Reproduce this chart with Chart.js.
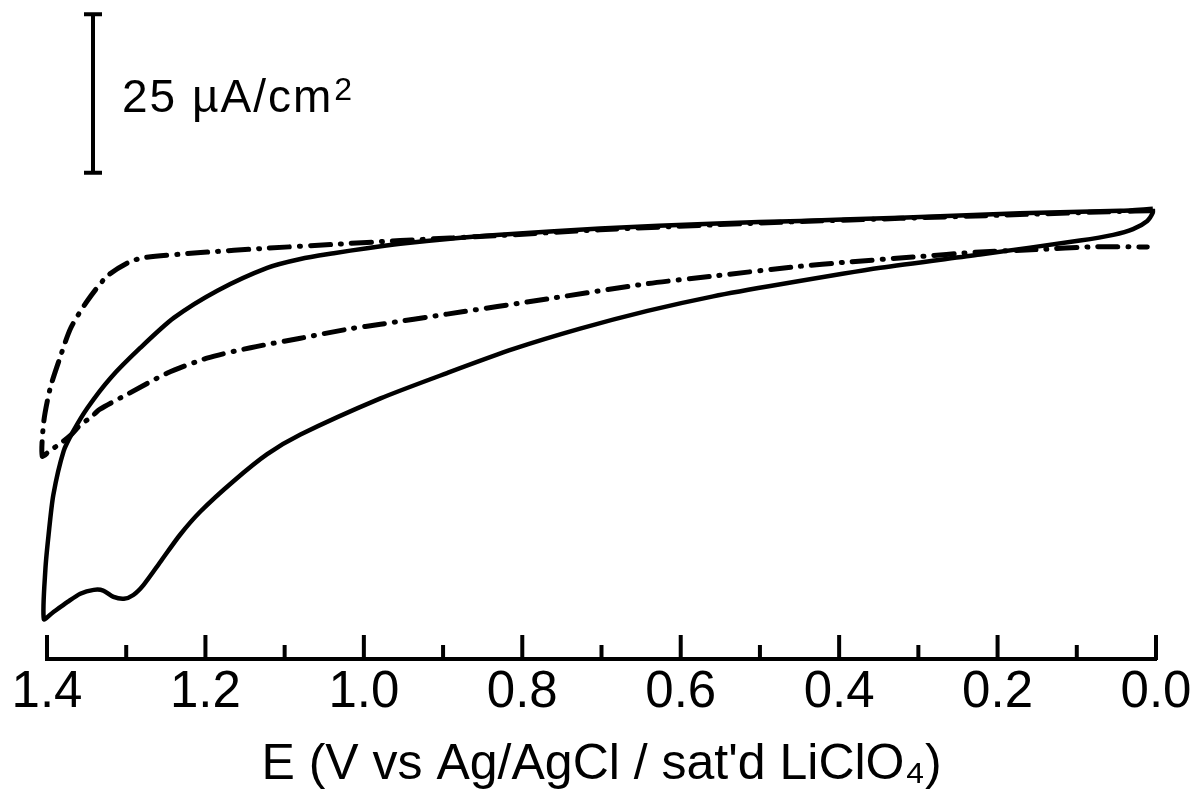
<!DOCTYPE html>
<html>
<head>
<meta charset="utf-8">
<title>Cyclic voltammogram</title>
<script src="https://cdn.jsdelivr.net/npm/chart.js@4.4.1/dist/chart.umd.min.js"></script>
<style>
  html, body { margin: 0; padding: 0; background: #fff; }
  #wrap { width: 1199px; height: 796px; }
</style>
</head>
<body>
<div id="wrap"><canvas id="cv" width="1199" height="796"></canvas></div>
<script>
// potential (V vs Ag/AgCl) and current density (uA/cm2), traced around the loop
const solidE = [0.004, 0.045, 0.172, 0.323, 0.449, 0.554, 0.702, 0.828, 0.891, 0.954, 0.996, 1.038, 1.080, 1.122, 1.185, 1.240, 1.282, 1.320, 1.349, 1.367, 1.379, 1.392, 1.398, 1.402, 1.404,
  1.393, 1.374, 1.358, 1.341, 1.329, 1.316, 1.303, 1.291, 1.278, 1.257, 1.232, 1.206, 1.165, 1.122, 1.080, 0.979, 0.895, 0.811, 0.727, 0.642, 0.559, 0.474, 0.348, 0.222, 0.096, 0.054, 0.029, 0.011, 0.004, 0.004];
const solidI = [6.0, 5.7, 5.3, 4.6, 4.1, 3.7, 2.9, 1.9, 1.3, 0.5, -0.2, -1.0, -1.9, -3.3, -6.9, -11.2, -15.9, -20.7, -25.4, -29.1, -32.2, -39.1, -45.4, -50.8, -58.7,
  -57.7, -56.0, -54.7, -54.1, -54.2, -55.2, -55.5, -54.9, -53.3, -49.7, -45.4, -41.7, -37.0, -32.7, -29.6, -23.9, -19.9, -16.1, -12.9, -10.1, -7.8, -5.9, -3.3, -1.2, 1.0, 1.9, 2.8, 4.1, 5.4, 6.0];

const dashE = [0.008, 0.045, 0.172, 0.323, 0.449, 0.554, 0.702, 0.828, 0.891, 0.954, 1.038, 1.122, 1.206, 1.278, 1.298, 1.324, 1.349, 1.370, 1.385, 1.396, 1.404, 1.406,
  1.396, 1.383, 1.370, 1.358, 1.345, 1.333, 1.298, 1.248, 1.197, 1.143, 1.080, 1.017, 0.979, 0.895, 0.768, 0.642, 0.559, 0.453, 0.390, 0.307, 0.222, 0.146, 0.083, 0.011];
const dashI = [5.7, 5.6, 5.1, 4.5, 4.0, 3.5, 2.7, 1.8, 1.4, 1.0, 0.4, -0.2, -0.9, -1.7, -2.5, -4.6, -8.5, -12.8, -18.0, -22.3, -27.5, -33.0,
  -32.1, -31.0, -29.7, -28.1, -26.9, -25.6, -23.2, -19.9, -17.5, -15.9, -14.4, -12.9, -12.2, -10.6, -8.2, -5.8, -4.6, -3.1, -2.4, -1.6, -0.8, -0.4, 0.0, 0.0];

const eTicks = [0, 0.1, 0.2, 0.3, 0.4, 0.5, 0.6, 0.7, 0.8, 0.9, 1.0, 1.1, 1.2, 1.3, 1.4];
const scaleBarSize = 25; // uA/cm2
const scaleBarTop = 36.7;

const toPoints = (xs, ys) => xs.map((x, i) => ({ x: x, y: ys[i] }));

// tick marks point up into the plot, long ones carry a label
const upTicks = {
  id: 'upTicks',
  afterDraw(chart) {
    const x = chart.scales.x;
    const ctx = chart.ctx;
    const base = chart.chartArea.bottom;
    ctx.save();
    ctx.strokeStyle = '#000';
    ctx.lineWidth = 4;
    ctx.lineCap = 'butt';
    x.ticks.forEach(t => {
      const major = Math.round(t.value * 10) % 2 === 0;
      const px = x.getPixelForValue(t.value);
      ctx.beginPath();
      ctx.moveTo(px, base + 1);
      ctx.lineTo(px, base - (major ? 24 : 14));
      ctx.stroke();
    });
    ctx.restore();
  }
};

// vertical scale bar for the current axis
const scaleBar = {
  id: 'scaleBar',
  afterDraw(chart) {
    const y = chart.scales.y;
    const ctx = chart.ctx;
    const bx = chart.chartArea.left + 46;
    const y1 = y.getPixelForValue(scaleBarTop);
    const y2 = y.getPixelForValue(scaleBarTop - scaleBarSize);
    ctx.save();
    ctx.strokeStyle = '#000';
    ctx.lineWidth = 4;
    ctx.beginPath();
    ctx.moveTo(bx, y1); ctx.lineTo(bx, y2);
    ctx.moveTo(bx - 9, y1); ctx.lineTo(bx + 9, y1);
    ctx.moveTo(bx - 9, y2); ctx.lineTo(bx + 9, y2);
    ctx.stroke();
    ctx.fillStyle = '#000';
    ctx.textBaseline = 'alphabetic';
    ctx.font = '46px "Liberation Sans", Arial, sans-serif';
    ctx.letterSpacing = '2px';
    const label = scaleBarSize + ' \u00b5A/cm';
    const ty = (y1 + y2) / 2 + 19;
    ctx.fillText(label, bx + 29, ty);
    const w = ctx.measureText(label).width;
    ctx.font = '32px "Liberation Sans", Arial, sans-serif';
    ctx.fillText('2', bx + 29 + w + 1, ty - 12);
    ctx.restore();
  }
};

new Chart(document.getElementById('cv'), {
  type: 'scatter',
  data: {
    datasets: [
      {
        label: 'solid',
        data: toPoints(solidE, solidI),
        showLine: true,
        borderColor: '#000',
        borderWidth: 4.5,
        tension: 0.25,
        pointRadius: 0,
        clip: false
      },
      {
        label: 'dash-dot',
        data: toPoints(dashE, dashI),
        showLine: true,
        borderColor: '#000',
        borderWidth: 5,
        borderDash: [20, 10, 1, 10],
        borderCapStyle: 'round',
        tension: 0.25,
        pointRadius: 0,
        clip: false
      }
    ]
  },
  options: {
    responsive: false,
    animation: false,
    layout: { padding: { left: 47, right: 43, top: 25, bottom: 0 } },
    plugins: { legend: { display: false }, tooltip: { enabled: false } },
    scales: {
      x: {
        type: 'linear',
        reverse: true,
        min: 0,
        max: 1.4,
        afterBuildTicks: axis => { axis.ticks = eTicks.map(v => ({ value: v })); },
        grid: { display: false, drawTicks: false, tickLength: 0 },
        border: { display: true, color: '#000', width: 4 },
        ticks: {
          autoSkip: false,
          maxRotation: 0,
          padding: 8,
          color: '#000',
          font: { family: '"Liberation Sans", Arial, sans-serif', size: 51, lineHeight: 1.0 },
          callback: v => (Math.round(v * 10) % 2 === 0 ? v.toFixed(1) : '')
        },
        title: {
          display: true,
          text: "E (V vs Ag/AgCl / sat'd LiClO\u2084)",
          color: '#000',
          font: { family: '"Liberation Sans", Arial, sans-serif', size: 50 },
          padding: { top: 9, bottom: 1 }
        }
      },
      y: {
        display: false,
        min: -65,
        max: 35
      }
    }
  },
  plugins: [upTicks, scaleBar]
});
</script>
</body>
</html>
